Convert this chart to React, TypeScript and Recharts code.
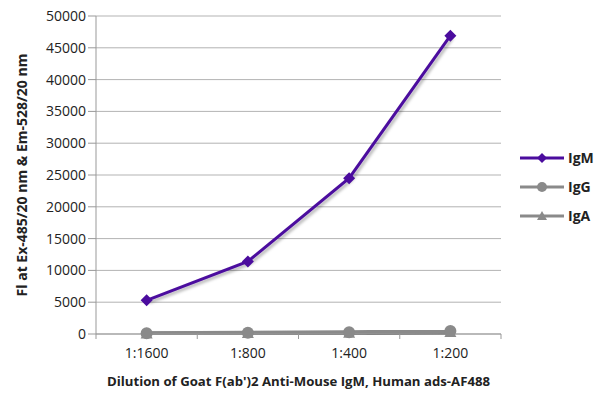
import { LineChart, Line, XAxis, YAxis, CartesianGrid, Legend } from 'recharts'

const dilutions = ['1:1600', '1:800', '1:400', '1:200']
const igm = [5300, 11400, 24500, 46900]
const igg = [120, 200, 260, 480]
const iga = [60, 110, 160, 300]
const yTicks = [0, 5000, 10000, 15000, 20000, 25000, 30000, 35000, 40000, 45000, 50000]

const PURPLE = '#4b0c9e'
const GRAY = '#8a8a8a'
const FONT = '"Open Sans", "Liberation Sans", sans-serif'

const data = dilutions.map((name, i) => ({
    name,
    x: i + 0.5,
    IgM: igm[i],
    IgG: igg[i],
    IgA: iga[i],
}))

// ticks at band edges (integers) get a tick mark, ticks at band centres get the label
const xTicks = [0, 0.5, 1, 1.5, 2, 2.5, 3, 3.5, 4]

function XTick(props: any) {
    const { x, y, payload } = props
    const v = payload.value
    if (Number.isInteger(v)) {
        return <line x1={x} x2={x} y1={y - 8} y2={y - 3} stroke="#999" strokeWidth={1} />
    }
    const label = dilutions[Math.floor(v)]
    return (
        <text x={x} y={y + 16} textAnchor="middle" fontSize={14} fill="#222" fontFamily={FONT}>
            {label}
        </text>
    )
}

function Diamond({ cx, cy, size = 6, fill }: any) {
    if (cx == null || cy == null) return null
    return <polygon points={`${cx},${cy - size} ${cx + size},${cy} ${cx},${cy + size} ${cx - size},${cy}`} fill={fill} />
}

function Circle({ cx, cy, r = 6, fill }: any) {
    if (cx == null || cy == null) return null
    return <circle cx={cx} cy={cy} r={r} fill={fill} />
}

function Triangle({ cx, cy, size = 6, fill }: any) {
    if (cx == null || cy == null) return null
    return <polygon points={`${cx},${cy - size} ${cx + size},${cy + size * 0.8} ${cx - size},${cy + size * 0.8}`} fill={fill} />
}

const legendItems = [
    { name: 'IgM', color: PURPLE, shape: 'diamond' },
    { name: 'IgG', color: GRAY, shape: 'circle' },
    { name: 'IgA', color: GRAY, shape: 'triangle' },
]

function LegendContent() {
    return (
        <svg width={80} height={90}>
            {legendItems.map((it, i) => {
                const y = 14 + i * 29
                return (
                    <g key={it.name}>
                        <line x1={2} x2={46} y1={y} y2={y} stroke={it.color} strokeWidth={3} />
                        {it.shape === 'diamond' && <Diamond cx={24} cy={y} size={5} fill={it.color} />}
                        {it.shape === 'circle' && <Circle cx={24} cy={y} r={5} fill={it.color} />}
                        {it.shape === 'triangle' && <Triangle cx={24} cy={y} size={5} fill={it.color} />}
                        <text x={50} y={y + 5} fontSize={14} fontWeight="bold" fill="#222" fontFamily={FONT}>
                            {it.name}
                        </text>
                    </g>
                )
            })}
        </svg>
    )
}

export default function App() {
    return (
        <div style={{ position: 'absolute', left: 0, top: 0, width: 600, height: 406, background: '#fff' }}>
            <LineChart width={600} height={406} data={data} margin={{ top: 16, right: 19, bottom: 16, left: 20 }}>
                <defs>
                    <filter id="shadow" x="-20%" y="-20%" width="140%" height="160%">
                        <feDropShadow dx={2} dy={2} stdDeviation={1.5} floodColor="#000" floodOpacity={0.3} />
                    </filter>
                </defs>
                <CartesianGrid vertical={false} stroke="#b3b3b3" />
                <XAxis
                    dataKey="x"
                    type="number"
                    domain={[0, 4]}
                    ticks={xTicks}
                    interval={0}
                    tick={<XTick />}
                    tickLine={false}
                    stroke="#999"
                    height={56}
                    label={{
                        value: "Dilution of Goat F(ab')2 Anti-Mouse IgM, Human ads-AF488",
                        position: 'insideBottom',
                        offset: 4,
                        style: { fontSize: 13.2, fontWeight: 'bold', fill: '#222', fontFamily: FONT },
                    }}
                />
                <YAxis
                    domain={[0, 50000]}
                    ticks={yTicks}
                    interval={0}
                    width={76}
                    stroke="#999"
                    tickSize={8}
                    tick={{ fontSize: 14, fill: '#222', fontFamily: FONT }}
                    label={{
                        value: 'Fl at Ex-485/20 nm & Em-528/20 nm',
                        angle: -90,
                        position: 'insideLeft',
                        offset: 2,
                        style: { textAnchor: 'middle', fontSize: 14, fontWeight: 'bold', fill: '#222', fontFamily: FONT },
                    }}
                />
                <Legend
                    layout="vertical"
                    verticalAlign="top"
                    align="right"
                    content={<LegendContent />}
                    wrapperStyle={{ left: 518, top: 144, width: 80 }}
                />
                <Line
                    dataKey="IgA"
                    stroke={GRAY}
                    strokeWidth={4}
                    dot={<Triangle size={6} fill={GRAY} />}
                    isAnimationActive={false}
                    filter="url(#shadow)"
                />
                <Line
                    dataKey="IgG"
                    stroke={GRAY}
                    strokeWidth={4}
                    dot={<Circle r={6} fill={GRAY} />}
                    isAnimationActive={false}
                    filter="url(#shadow)"
                />
                <Line
                    dataKey="IgM"
                    stroke={PURPLE}
                    strokeWidth={3}
                    dot={<Diamond size={6} fill={PURPLE} />}
                    isAnimationActive={false}
                    filter="url(#shadow)"
                />
            </LineChart>
        </div>
    )
}
